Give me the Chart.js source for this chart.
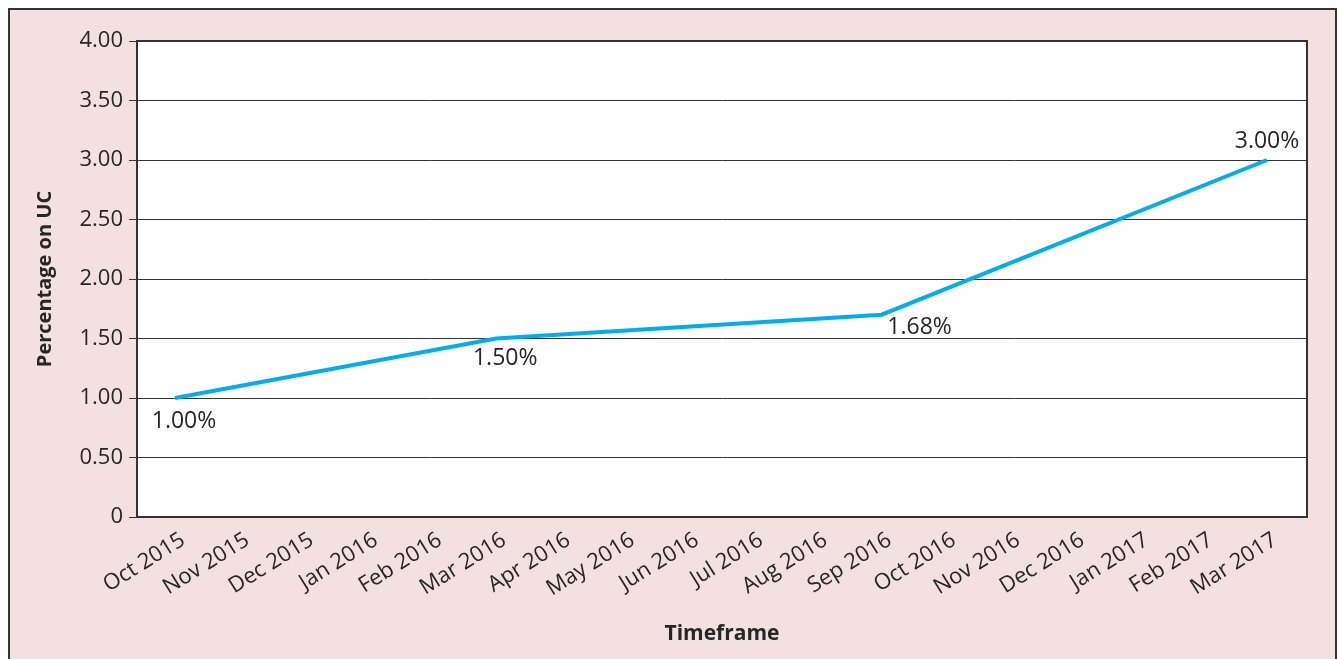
<!DOCTYPE html>
<html>
<head>
<meta charset="utf-8">
<script src="https://cdn.jsdelivr.net/npm/chart.js@4"></script>
<style>
html,body{margin:0;padding:0;background:#fff;}
canvas{display:block;}
</style>
</head>
<body>
<canvas id="c" width="1339" height="659"></canvas>
<script>
const categories = ["Oct 2015","Nov 2015","Dec 2015","Jan 2016","Feb 2016","Mar 2016","Apr 2016","May 2016","Jun 2016","Jul 2016","Aug 2016","Sep 2016","Oct 2016","Nov 2016","Dec 2016","Jan 2017","Feb 2017","Mar 2017"];
const percentageOnUC = [1.00,null,null,null,null,1.50,null,null,null,null,null,1.70,null,null,null,null,null,3.00];
const pointLabels = ["1.00%",null,null,null,null,"1.50%",null,null,null,null,null,"1.68%",null,null,null,null,null,"3.00%"];
const yTicks = [0,0.5,1,1.5,2,2.5,3,3.5,4];

const FONT = "'Open Sans', 'Noto Sans', sans-serif";
const TEXT = "#262626";

const framePlugin = {
  id: 'frame',
  beforeDraw(chart){
    const ctx = chart.ctx;
    ctx.save();
    ctx.fillStyle = '#ffffff';
    ctx.fillRect(0,0,chart.width,chart.height);
    ctx.fillStyle = '#f3e1e1';
    ctx.fillRect(9,9,1327,700);
    ctx.strokeStyle = '#333333';
    ctx.lineWidth = 2;
    ctx.strokeRect(9,9,1327,700);
    const a = chart.chartArea;
    ctx.fillStyle = '#ffffff';
    ctx.fillRect(a.left,a.top,a.right-a.left,a.bottom-a.top);
    ctx.restore();
  },
  afterDatasetsDraw(chart){
    const ctx = chart.ctx;
    const a = chart.chartArea;
    ctx.save();
    ctx.strokeStyle = '#333333';
    ctx.lineWidth = 2;
    ctx.beginPath();
    ctx.moveTo(a.left, a.top); ctx.lineTo(a.right, a.top); ctx.lineTo(a.right, a.bottom);
    ctx.stroke();
    const meta = chart.getDatasetMeta(0);
    ctx.fillStyle = TEXT;
    ctx.font = "23px " + FONT;
    ctx.textAlign = 'center';
    ctx.textBaseline = 'middle';
    const offs = {0:[9,23],5:[9,20],11:[38,13],17:[0,-19]};
    pointLabels.forEach((t,i)=>{
      if(!t) return;
      const p = meta.data[i];
      const o = offs[i] || [0,-20];
      ctx.fillText(t, p.x + o[0], p.y + o[1]);
    });
    ctx.restore();
  }
};

new Chart(document.getElementById('c'), {
  type: 'line',
  data: {
    datasets: [{
      data: percentageOnUC.map((v,i)=>({x:i, y:v})),
      borderColor: '#00aeef',
      borderWidth: 4,
      pointRadius: 0,
      spanGaps: true,
      tension: 0,
      borderCapStyle: 'butt'
    }]
  },
  options: {
    responsive: false,
    animation: false,
    devicePixelRatio: 1,
    layout: { padding: { left: 24, right: 32, top: 41, bottom: 8 } },
    plugins: { legend: { display: false }, tooltip: { enabled: false } },
    scales: {
      x: {
        type: 'linear',
        min: -0.592, max: 17.623,
        afterBuildTicks(s){ s.ticks = categories.map((c,i)=>({value:i})); },
        grid: { display: false, drawTicks: false },
        border: { display: true, color: '#333333', width: 2 },
        ticks: { color: TEXT, font: { family: FONT, size: 22 }, minRotation: 32, maxRotation: 32, autoSkip: false, padding: 10, labelOffset: 8,
          callback: v => categories[v] },
        title: { display: true, text: 'Timeframe', color: TEXT, font: { family: FONT, size: 21, weight: 'bold' }, padding: { top: 4, bottom: 4 } },
        afterFit(s){ s.height = 659 - 517 - 8; }
      },
      y: {
        min: 0, max: 4,
        afterBuildTicks(s){ s.ticks = yTicks.map(v=>({value:v})); },
        grid: { color: '#333333', lineWidth: 1, tickLength: 8, tickColor: '#333333' },
        border: { display: true, color: '#333333', width: 2 },
        ticks: { color: TEXT, font: { family: FONT, size: 22 }, padding: 6,
          callback: v => v === 0 ? '0' : Number(v).toFixed(2) },
        title: { display: true, text: 'Percentage on UC', color: TEXT, font: { family: FONT, size: 20, weight: 'bold' }, padding: { top: 9, bottom: 4 } },
        afterFit(s){ s.width = 137 - 24; }
      }
    }
  },
  plugins: [framePlugin]
});
</script>
</body>
</html>
